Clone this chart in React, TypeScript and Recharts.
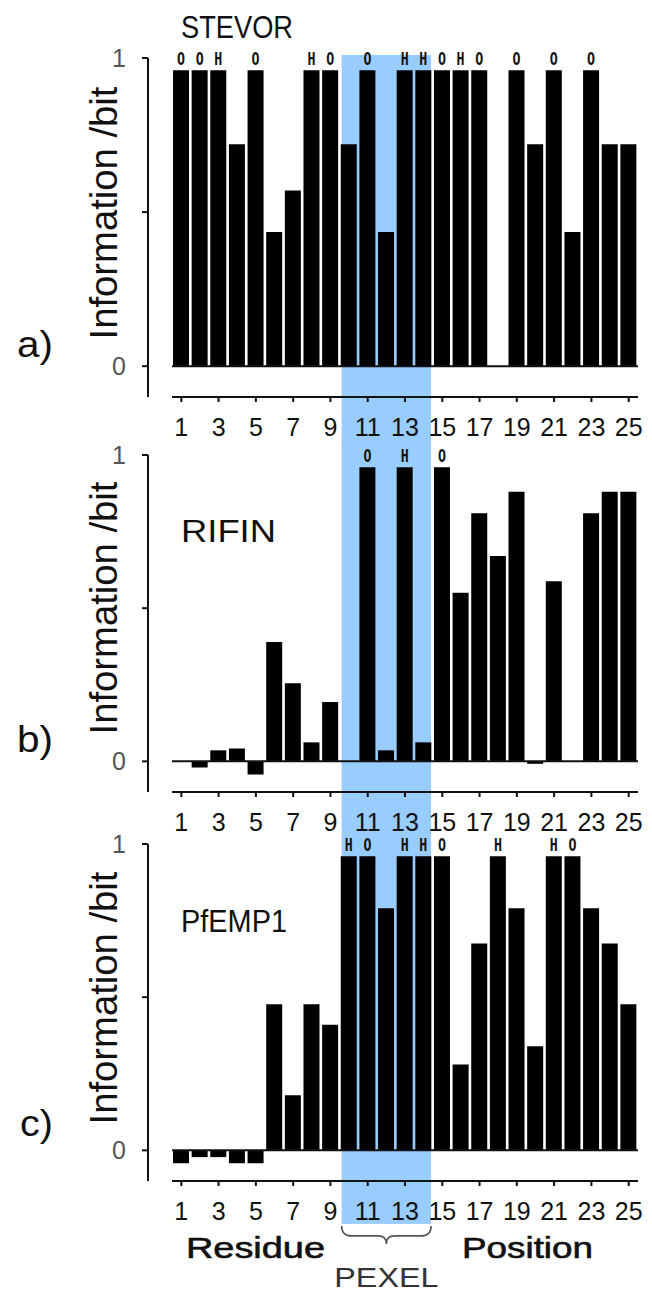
import React from 'react';
import { BarChart, Bar, XAxis, YAxis, ReferenceLine, ReferenceArea, LabelList } from 'recharts';

const positions = [1, 2, 3, 4, 5, 6, 7, 8, 9, 10, 11, 12, 13, 14, 15, 16, 17, 18, 19, 20, 21, 22, 23, 24, 25];
const xTicks = [1, 3, 5, 7, 9, 11, 13, 15, 17, 19, 21, 23, 25];
const yTicks = [0, 0.5, 1];
const yTickLabels: Record<string, string> = { '0': '0', '0.5': '', '1': '1' };

const stevorValues = [0.96, 0.96, 0.96, 0.72, 0.96, 0.435, 0.57, 0.96, 0.96, 0.72, 0.96, 0.435, 0.96, 0.96, 0.96, 0.96, 0.96, 0, 0.96, 0.72, 0.96, 0.435, 0.96, 0.72, 0.72];
const stevorMarks = ['O', 'O', 'H', '', 'O', '', '', 'H', 'O', '', 'O', '', 'H', 'H', 'O', 'H', 'O', '', 'O', '', 'O', '', 'O', '', ''];

const rifinValues = [0, -0.02, 0.036, 0.042, -0.043, 0.39, 0.255, 0.062, 0.194, 0, 0.96, 0.036, 0.96, 0.062, 0.96, 0.55, 0.81, 0.67, 0.88, -0.008, 0.588, 0, 0.81, 0.88, 0.88];
const rifinMarks = ['', '', '', '', '', '', '', '', '', '', 'O', '', 'H', '', 'O', '', '', '', '', '', '', '', '', '', ''];

const pfempValues = [-0.042, -0.022, -0.022, -0.042, -0.042, 0.477, 0.18, 0.477, 0.41, 0.96, 0.96, 0.79, 0.96, 0.96, 0.96, 0.28, 0.675, 0.96, 0.79, 0.34, 0.96, 0.96, 0.79, 0.675, 0.477];
const pfempMarks = ['', '', '', '', '', '', '', '', '', 'H', 'O', '', 'H', 'H', 'O', '', '', 'H', '', '', 'H', 'O', '', '', ''];

const pexelStart = 9.6;
const pexelEnd = 14.4;

const FONT = '"Liberation Sans", Arial, sans-serif';
const BLUE = '#99ccff';
const X_DOMAIN: [number, number] = [-0.788, 25.5];
const Y_DOMAIN: [number, number] = [-0.1, 1];

const buildRows = (values: number[], marks: string[]) =>
  positions.map((p, i) => ({ pos: p, value: values[i], mark: marks[i] }));

const stevorRows = buildRows(stevorValues, stevorMarks);
const rifinRows = buildRows(rifinValues, rifinMarks);
const pfempRows = buildRows(pfempValues, pfempMarks);

const markLabel = (props: any) => {
  const { x, y, width, value } = props;
  if (!value) return null;
  return (
    <text
      x={Number(x) + Number(width) / 2}
      y={Number(y) - 5}
      textAnchor="middle"
      fontSize={17}
      fontWeight="bold"
      fontFamily='"DejaVu Sans Mono", monospace'
      fill="#111"
      textLength={8}
      lengthAdjust="spacingAndGlyphs"
    >
      {value}
    </text>
  );
};

const pexelShape = (p: any) => {
  const { x, y, width, height } = p;
  const by = y + height + 2;
  const mid = x + width / 2;
  const r = x + width;
  const d = `M${x} ${by} Q${x} ${by + 10} ${x + 10} ${by + 10} L${mid - 8} ${by + 10} Q${mid} ${by + 10} ${mid} ${by + 18} Q${mid} ${by + 10} ${mid + 8} ${by + 10} L${r - 10} ${by + 10} Q${r} ${by + 10} ${r} ${by}`;
  return (
    <g>
      <rect x={x} y={y} width={width} height={height} fill={BLUE} />
      <path d={d} fill="none" stroke="#555" strokeWidth={1.6} />
      <text x={mid} y={y + height + 63} textAnchor="middle" fontSize={28} fontFamily={FONT} fill="#333" textLength={104} lengthAdjust="spacingAndGlyphs">
        PEXEL
      </text>
    </g>
  );
};

type PanelProps = {
  rows: any[];
  height: number;
  marginTop: number;
  marginBottom: number;
  title: string;
  titleY: number;
  titleLen: number;
  letter: string;
  letterX: number;
  letterY: number;
  labelCenterY: number;
  areaY1: number;
  areaY2: number;
  withBrace?: boolean;
  children?: React.ReactNode;
};

function Panel(p: PanelProps) {
  return (
    <BarChart
      width={652}
      height={p.height}
      data={p.rows}
      margin={{ top: p.marginTop, right: 14, bottom: p.marginBottom, left: 88 }}
      barSize={16}
    >
      {p.withBrace ? (
        <ReferenceArea x1={pexelStart} x2={pexelEnd} y1={p.areaY1} y2={p.areaY2} ifOverflow="visible" shape={pexelShape} />
      ) : (
        <ReferenceArea x1={pexelStart} x2={pexelEnd} y1={p.areaY1} y2={p.areaY2} ifOverflow="visible" fill={BLUE} fillOpacity={1} stroke="none" />
      )}
      <XAxis
        type="number"
        dataKey="pos"
        domain={X_DOMAIN}
        allowDataOverflow
        ticks={xTicks}
        interval={0}
        axisLine={false}
        tickLine={{ stroke: '#111', strokeWidth: 2 }}
        tickSize={5}
        tickMargin={16}
        height={40}
        tick={{ fontSize: 25, fill: '#111', fontFamily: FONT }}
      />
      <YAxis
        type="number"
        domain={Y_DOMAIN}
        ticks={yTicks}
        interval={0}
        allowDataOverflow
        width={60}
        axisLine={{ stroke: '#111', strokeWidth: 2 }}
        tickLine={{ stroke: '#111', strokeWidth: 2 }}
        tickSize={6}
        tickMargin={16}
        tickFormatter={(v: number) => yTickLabels[String(v)] ?? ''}
        tick={{ fontSize: 25, fill: '#555', fontFamily: FONT }}
      />
      <Bar dataKey="value" fill="#000" isAnimationActive={false}>
        <LabelList dataKey="mark" content={markLabel} />
      </Bar>
      <ReferenceLine segment={[{ x: 0.5, y: 0 }, { x: 25.5, y: 0 }]} stroke="#111" strokeWidth={2} ifOverflow="visible" />
      <ReferenceLine segment={[{ x: 0.5, y: -0.1 }, { x: 25.5, y: -0.1 }]} stroke="#111" strokeWidth={2} ifOverflow="visible" />
      <text x={181} y={p.titleY} fontSize={32} fontFamily={FONT} fill="#111" textLength={p.titleLen} lengthAdjust="spacingAndGlyphs">
        {p.title}
      </text>
      <text x={p.letterX} y={p.letterY} fontSize={36} fontFamily={FONT} fill="#111" textLength={53 - p.letterX} lengthAdjust="spacingAndGlyphs">
        {p.letter}
      </text>
      <text
        x={117}
        y={p.labelCenterY}
        transform={`rotate(-90 117 ${p.labelCenterY})`}
        textAnchor="middle"
        fontSize={38}
        fontFamily={FONT}
        fill="#111"
        textLength={253}
        lengthAdjust="spacingAndGlyphs"
      >
        Information /bit
      </text>
      {p.children}
    </BarChart>
  );
}

export default function App() {
  return (
    <div style={{ position: 'absolute', left: 0, top: 0, width: 652, height: 1292, background: '#fff', overflow: 'hidden' }}>
      <style>{'.recharts-surface{overflow:visible}'}</style>
      <div style={{ position: 'absolute', left: 0, top: 0 }}>
        <Panel
          rows={stevorRows}
          height={442}
          marginTop={58}
          marginBottom={5}
          title="STEVOR"
          titleY={38}
          titleLen={112}
          letter="a)"
          letterX={17}
          letterY={357}
          labelCenterY={213}
          areaY1={-0.25}
          areaY2={1.01}
        />
      </div>
      <div style={{ position: 'absolute', left: 0, top: 442 }}>
        <Panel
          rows={rifinRows}
          height={390}
          marginTop={13}
          marginBottom={0}
          title="RIFIN"
          titleY={100}
          titleLen={95}
          letter="b)"
          letterX={17}
          letterY={310}
          labelCenterY={166}
          areaY1={-0.233}
          areaY2={1.045}
        />
      </div>
      <div style={{ position: 'absolute', left: 0, top: 832 }}>
        <Panel
          rows={pfempRows}
          height={460}
          marginTop={12}
          marginBottom={71}
          title="PfEMP1"
          titleY={100}
          titleLen={106}
          letter="c)"
          letterX={20}
          letterY={304}
          labelCenterY={166}
          areaY1={-0.24}
          areaY2={1.04}
          withBrace
        >
          <text x={186} y={426} fontSize={29} fontFamily={FONT} fill="#111" stroke="#111" strokeWidth={0.6} textLength={139} lengthAdjust="spacingAndGlyphs">
            Residue
          </text>
          <text x={462} y={426} fontSize={29} fontFamily={FONT} fill="#111" stroke="#111" strokeWidth={0.6} textLength={131} lengthAdjust="spacingAndGlyphs">
            Position
          </text>
        </Panel>
      </div>
    </div>
  );
}
